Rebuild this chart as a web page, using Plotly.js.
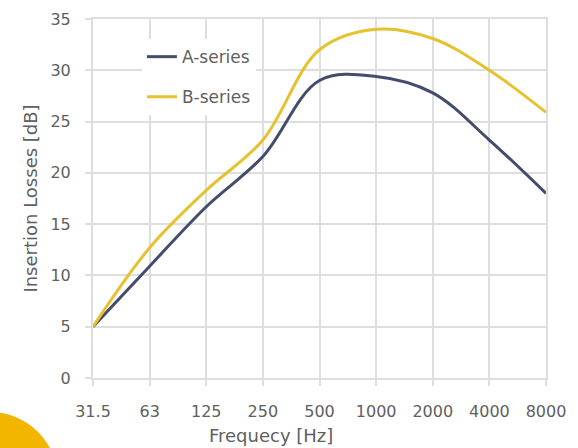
<!DOCTYPE html>
<html>
<head>
<meta charset="utf-8">
<script src="https://cdn.plot.ly/plotly-3.0.1.min.js"></script>
<style>html,body{margin:0;padding:0;background:#fff;}#chart{width:578px;height:448px;}</style>
</head>
<body>
<div id="chart"></div>
<script>
var frequencies = ["31.5", "63", "125", "250", "500", "1000", "2000", "4000", "8000"];
var seriesA = [5, 10.9, 16.7, 21.6, 29.0, 29.4, 27.8, 23.2, 18.0];
var seriesB = [5, 12.7, 18.3, 23.2, 32.0, 34.0, 33.1, 30.0, 25.9];
var yTicks = [0, 5, 10, 15, 20, 25, 30, 35];

var FONT = "DejaVu Sans";
var TXT = "#606060";
var GRID = "#dedede";

var traces = [
  {x: frequencies, y: seriesA, name: "A-series", type: "scatter", mode: "lines",
   legendgroup: "a", line: {color: "#434D6B", width: 3, shape: "spline", smoothing: 1}},
  {x: frequencies, y: seriesB, name: "B-series", type: "scatter", mode: "lines",
   legendgroup: "b", line: {color: "#E5C22E", width: 3, shape: "spline", smoothing: 1}}
];

var layout = {
  width: 578, height: 448,
  margin: {l: 93, r: 32, t: 19, b: 70},
  paper_bgcolor: "#fff", plot_bgcolor: "#fff",
  font: {family: FONT, size: 16, color: TXT},
  showlegend: true,
  legend: {x: 0.108, y: 0.944, xanchor: "left", yanchor: "top", bgcolor: "#fff",
           font: {family: FONT, size: 17, color: TXT}, tracegroupgap: 15, itemwidth: 30},
  xaxis: {type: "category", range: [0, 8], showgrid: true, gridcolor: GRID, gridwidth: 2,
          showline: true, linecolor: GRID, linewidth: 2, mirror: true,
          ticks: "outside", ticklen: 6, tickcolor: GRID, tickwidth: 2,
          tickfont: {family: FONT, size: 16, color: TXT}, ticklabelstandoff: 12,
          zeroline: false, fixedrange: true},
  yaxis: {range: [0, 35], tickvals: yTicks, showgrid: true, gridcolor: GRID, gridwidth: 2,
          showline: true, linecolor: GRID, linewidth: 2, mirror: true,
          ticks: "outside", ticklen: 6, tickcolor: GRID, tickwidth: 2,
          tickfont: {family: FONT, size: 16, color: TXT}, ticklabelstandoff: 11,
          zeroline: false, fixedrange: true,
          title: {text: "Insertion Losses [dB]", font: {family: FONT, size: 18, color: TXT}, standoff: 8}},
  annotations: [
    {text: "Frequecy [Hz]", xref: "paper", yref: "paper", x: 0.393, y: -0.16,
     xanchor: "center", yanchor: "middle", showarrow: false,
     font: {family: FONT, size: 18, color: TXT}}
  ],
  shapes: [
    {type: "circle", xref: "paper", yref: "paper", x0: -0.3775, x1: -0.0773, y0: -0.4735, y1: -0.0947,
     fillcolor: "#F2B600", line: {width: 0}, layer: "above"}
  ]
};

Plotly.newPlot("chart", traces, layout, {staticPlot: true, displayModeBar: false});
</script>
</body>
</html>
